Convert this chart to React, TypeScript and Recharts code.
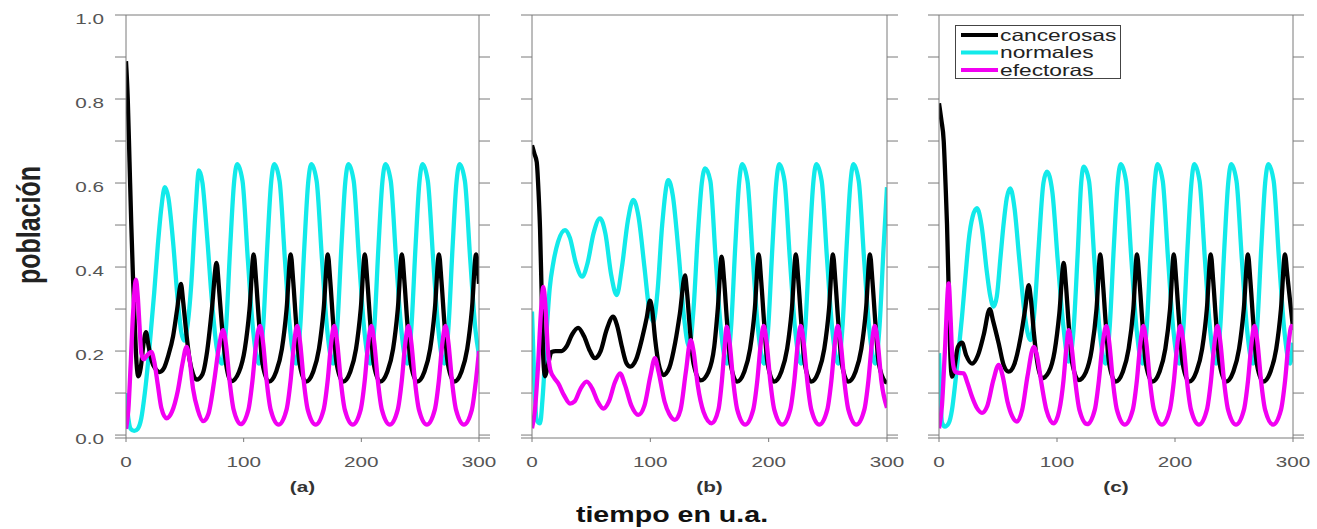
import React from "react";
import { LineChart, Line, XAxis, YAxis, Legend } from "recharts";

// series: [tiempo, población]
const A_CANCER: [number, number][] = [
  [0, 0.89], [1.5, 0.8], [3, 0.65], [4.5, 0.5], [6, 0.37], [7.5, 0.26], [9, 0.17], [10.5, 0.14], [12.5, 0.16],
  [15, 0.22], [17, 0.245], [19, 0.215], [22, 0.175], [25, 0.158], [28.5, 0.15], [32, 0.158], [36, 0.19],
  [40, 0.235], [43.5, 0.3], [46.7, 0.36], [48.5, 0.32], [51, 0.25], [54, 0.18], [57, 0.145], [60, 0.132],
  [65, 0.145], [69, 0.2], [73, 0.3], [77, 0.41], [79, 0.35], [81.5, 0.26], [84.5, 0.18], [89.5, 0.128],
  [96, 0.15], [101, 0.205], [105, 0.3],
  [108.5, 0.43], [110.5, 0.37], [113, 0.27], [116, 0.17], [121.5, 0.127], [127.5, 0.15], [132.5, 0.205], [136.5, 0.3],
  [140, 0.43], [142, 0.37], [144.5, 0.27], [147.5, 0.17], [153, 0.127], [159, 0.15], [164, 0.205], [168, 0.3],
  [171.5, 0.43], [173.5, 0.37], [176, 0.27], [179, 0.17], [184.5, 0.127], [190.5, 0.15], [195.5, 0.205], [199.5, 0.3],
  [203, 0.43], [205, 0.37], [207.5, 0.27], [210.5, 0.17], [216, 0.127], [222, 0.15], [227, 0.205], [231, 0.3],
  [234.5, 0.43], [236.5, 0.37], [239, 0.27], [242, 0.17], [247.5, 0.127], [253.5, 0.15], [258.5, 0.205], [262.5, 0.3],
  [266, 0.43], [268, 0.37], [270.5, 0.27], [273.5, 0.17], [279, 0.127], [285, 0.15], [290, 0.205], [294, 0.3],
  [297.5, 0.43], [300, 0.36],
];
const A_NORMAL: [number, number][] = [
  [0, 0.1], [2, 0.04], [4, 0.015], [7, 0.01], [10, 0.015], [13, 0.04], [16, 0.1], [20, 0.21], [24, 0.34],
  [27, 0.45], [30, 0.54], [33, 0.59], [36, 0.565], [40, 0.46], [44, 0.32], [47, 0.245], [49.3, 0.225],
  [52, 0.255], [55.5, 0.36], [59, 0.53], [62, 0.63], [65, 0.6], [69, 0.47], [73, 0.32], [77, 0.21],
  [81.5, 0.17], [85, 0.255], [88.5, 0.445], [91.8, 0.6],
  [94.5, 0.645], [99, 0.605], [103.5, 0.42], [108, 0.25], [112.9, 0.17], [116.5, 0.255], [120, 0.445], [123.3, 0.6],
  [126, 0.645], [130.5, 0.605], [135, 0.42], [139.5, 0.25], [144.4, 0.17], [148, 0.255], [151.5, 0.445], [154.8, 0.6],
  [157.5, 0.645], [162, 0.605], [166.5, 0.42], [171, 0.25], [175.9, 0.17], [179.5, 0.255], [183, 0.445], [186.3, 0.6],
  [189, 0.645], [193.5, 0.605], [198, 0.42], [202.5, 0.25], [207.4, 0.17], [211, 0.255], [214.5, 0.445], [217.8, 0.6],
  [220.5, 0.645], [225, 0.605], [229.5, 0.42], [234, 0.25], [238.9, 0.17], [242.5, 0.255], [246, 0.445], [249.3, 0.6],
  [252, 0.645], [256.5, 0.605], [261, 0.42], [265.5, 0.25], [270.4, 0.17], [274, 0.255], [277.5, 0.445], [280.8, 0.6],
  [283.5, 0.645], [288, 0.605], [292.5, 0.42], [297, 0.25], [300, 0.19],
];
const A_EFECT: [number, number][] = [
  [0, 0.015], [2, 0.06], [4, 0.17], [6, 0.29], [8.5, 0.37], [10, 0.33], [11.5, 0.26], [13, 0.195], [15, 0.18],
  [18, 0.19], [21.5, 0.198], [24, 0.175], [27, 0.12], [30, 0.065], [34.5, 0.04], [39, 0.055], [44, 0.105],
  [48, 0.17], [51.5, 0.21], [54, 0.18], [57, 0.11], [61, 0.06], [65.7, 0.033], [70, 0.05], [75, 0.13],
  [79, 0.21], [82.6, 0.25], [85, 0.215], [88, 0.13], [91.5, 0.06], [97.5, 0.026], [104, 0.06], [107.5, 0.13], [110.5, 0.215],
  [114, 0.26], [116.5, 0.22], [119.5, 0.13], [123, 0.06], [129.7, 0.025], [136.4, 0.06], [139.9, 0.13], [142.9, 0.22],
  [145.5, 0.26], [148, 0.22], [151, 0.13], [154.5, 0.06], [161.2, 0.025], [167.9, 0.06], [171.4, 0.13], [174.4, 0.22],
  [177, 0.26], [179.5, 0.22], [182.5, 0.13], [186, 0.06], [192.7, 0.025], [199.4, 0.06], [202.9, 0.13], [205.9, 0.22],
  [208.5, 0.26], [211, 0.22], [214, 0.13], [217.5, 0.06], [224.2, 0.025], [230.9, 0.06], [234.4, 0.13], [237.4, 0.22],
  [240, 0.26], [242.5, 0.22], [245.5, 0.13], [249, 0.06], [255.7, 0.025], [262.4, 0.06], [265.9, 0.13], [268.9, 0.22],
  [271.5, 0.26], [274, 0.22], [277, 0.13], [280.5, 0.06], [287.2, 0.025], [293.9, 0.06], [297.4, 0.13], [300, 0.2],
];

const B_CANCER: [number, number][] = [
  [0, 0.69], [2, 0.67], [4, 0.65], [5.5, 0.58], [6.8, 0.49], [8.2, 0.33], [9.6, 0.18], [11, 0.14], [13, 0.16],
  [16.5, 0.198], [20, 0.2], [25, 0.2], [29, 0.21], [34, 0.24], [39, 0.255], [44, 0.235], [49, 0.2], [53, 0.183],
  [58, 0.2], [63, 0.25], [68.5, 0.282], [72, 0.26], [76, 0.21], [80, 0.17], [83, 0.163], [88, 0.18], [93, 0.23],
  [97, 0.28], [99.7, 0.32], [101.5, 0.3], [104, 0.23], [107, 0.17], [111, 0.143], [116, 0.16], [121, 0.22],
  [125, 0.29], [129.3, 0.38], [131, 0.34], [133.5, 0.25], [136.5, 0.17], [142.5, 0.13], [149, 0.15], [154, 0.21], [157, 0.3],
  [160.3, 0.425], [162.3, 0.37], [164.8, 0.27], [167.8, 0.17], [173.3, 0.127], [179.3, 0.15], [184.3, 0.205], [188.3, 0.3],
  [191.6, 0.43], [193.6, 0.37], [196.1, 0.27], [199.1, 0.17], [204.6, 0.127], [210.6, 0.15], [215.6, 0.205], [219.6, 0.3],
  [223, 0.43], [225, 0.37], [227.5, 0.27], [230.5, 0.17], [236, 0.127], [242, 0.15], [247, 0.205], [251, 0.3],
  [254.3, 0.43], [256.3, 0.37], [258.8, 0.27], [261.8, 0.17], [267.3, 0.127], [273.3, 0.15], [278.3, 0.205], [282.3, 0.3],
  [285.6, 0.43], [287.6, 0.37], [290.1, 0.27], [293.1, 0.17], [298.6, 0.127], [300, 0.125],
];
const B_NORMAL: [number, number][] = [
  [0, 0.294], [2, 0.12], [4, 0.036], [6.8, 0.028], [9, 0.09], [12.4, 0.25], [15, 0.35], [18, 0.41], [22, 0.46],
  [27.9, 0.488], [32, 0.47], [37, 0.41], [42.5, 0.377], [47, 0.41], [52, 0.48], [57.5, 0.516], [62, 0.48],
  [67, 0.38], [71.6, 0.333], [76, 0.4], [81, 0.51], [85.6, 0.56], [90, 0.52], [95, 0.4], [99, 0.3], [102.5, 0.27],
  [106, 0.34], [110, 0.5], [115.2, 0.607], [119, 0.57], [124, 0.43], [128.5, 0.28], [132.7, 0.21], [136.5, 0.3],
  [140, 0.47], [143.5, 0.6], [146.4, 0.635],
  [150.7, 0.605], [155.2, 0.42], [159.7, 0.25], [164.6, 0.17], [168.2, 0.255], [171.7, 0.445], [175, 0.6],
  [177.6, 0.645], [182.1, 0.605], [186.6, 0.42], [191.1, 0.25], [196, 0.17], [199.6, 0.255], [203.1, 0.445], [206.4, 0.6],
  [208.9, 0.645], [213.4, 0.605], [217.9, 0.42], [222.4, 0.25], [227.3, 0.17], [230.9, 0.255], [234.4, 0.445], [237.7, 0.6],
  [240.3, 0.645], [244.8, 0.605], [249.3, 0.42], [253.8, 0.25], [258.7, 0.17], [262.3, 0.255], [265.8, 0.445], [269.1, 0.6],
  [271.6, 0.645], [276.1, 0.605], [280.6, 0.42], [285.1, 0.25], [290, 0.17], [293.6, 0.255], [297.1, 0.445], [300, 0.59],
];
const B_EFECT: [number, number][] = [
  [0, 0.016], [2.5, 0.06], [5, 0.16], [7.5, 0.29], [9.6, 0.353], [11.5, 0.3], [13.5, 0.2], [15.5, 0.155],
  [19, 0.135], [22.2, 0.123], [27, 0.095], [32.1, 0.075], [36, 0.08], [41, 0.11], [46.2, 0.127], [51, 0.11],
  [55.5, 0.08], [60.3, 0.063], [65, 0.08], [70, 0.125], [74.4, 0.147], [78.5, 0.12], [84, 0.07], [89.9, 0.048],
  [95, 0.07], [100, 0.14], [103.9, 0.183], [107, 0.15], [112, 0.08], [116, 0.05], [120.8, 0.036], [125.5, 0.06],
  [130, 0.15], [134.1, 0.226], [136.5, 0.2], [140, 0.12], [145, 0.055], [151.9, 0.028], [157.5, 0.06], [160.5, 0.13], [162.8, 0.21],
  [164.5, 0.258], [167, 0.22], [170, 0.13], [173.5, 0.06], [180.2, 0.025], [186.9, 0.06], [190.4, 0.13], [193.4, 0.22],
  [195.8, 0.26], [198.3, 0.22], [201.3, 0.13], [204.8, 0.06], [211.5, 0.025], [218.2, 0.06], [221.7, 0.13], [224.7, 0.22],
  [227.1, 0.26], [229.6, 0.22], [232.6, 0.13], [236.1, 0.06], [242.8, 0.025], [249.5, 0.06], [253, 0.13], [256, 0.22],
  [258.4, 0.26], [260.9, 0.22], [263.9, 0.13], [267.4, 0.06], [274.1, 0.025], [280.8, 0.06], [284.3, 0.13], [287.3, 0.22],
  [289.7, 0.26], [292.2, 0.22], [295.2, 0.13], [300, 0.065],
];

const C_CANCER: [number, number][] = [
  [0, 0.79], [2, 0.75], [4, 0.7], [5.5, 0.6], [6.8, 0.5], [8.2, 0.345], [9.6, 0.19], [11, 0.139], [13, 0.16],
  [16, 0.21], [19.5, 0.22], [23, 0.19], [28, 0.17], [33, 0.19], [38, 0.24], [43, 0.3], [46, 0.27], [50.6, 0.218],
  [55, 0.165], [59, 0.151], [64, 0.17], [69, 0.23], [73, 0.3], [76, 0.357], [78, 0.32], [80.5, 0.24], [83.5, 0.17],
  [87.3, 0.135], [93, 0.15], [98, 0.2], [102, 0.29], [105.7, 0.41], [107.5, 0.36], [110, 0.26], [113, 0.17],
  [118.4, 0.131], [124.5, 0.15], [129.5, 0.205], [133.5, 0.3],
  [136.7, 0.43], [138.7, 0.37], [141.2, 0.27], [144.2, 0.17], [149.7, 0.127], [155.7, 0.15], [160.7, 0.205], [164.7, 0.3],
  [167.8, 0.43], [169.8, 0.37], [172.3, 0.27], [175.3, 0.17], [180.8, 0.127], [186.8, 0.15], [191.8, 0.205], [195.8, 0.3],
  [199, 0.43], [201, 0.37], [203.5, 0.27], [206.5, 0.17], [212, 0.127], [218, 0.15], [223, 0.205], [227, 0.3],
  [230.3, 0.43], [232.3, 0.37], [234.8, 0.27], [237.8, 0.17], [243.3, 0.127], [249.3, 0.15], [254.3, 0.205], [258.3, 0.3],
  [261.8, 0.43], [263.8, 0.37], [266.3, 0.27], [269.3, 0.17], [274.8, 0.127], [280.8, 0.15], [285.8, 0.205], [289.8, 0.3],
  [293.2, 0.43], [295.2, 0.38], [300, 0.255],
];
const C_NORMAL: [number, number][] = [
  [0, 0.195], [1.2, 0.1], [2.5, 0.03], [5, 0.02], [8.2, 0.028], [11, 0.06], [14, 0.13], [17, 0.21], [19.5, 0.282],
  [22.5, 0.38], [25.2, 0.464], [28.5, 0.52], [32.2, 0.54], [36, 0.5], [40.7, 0.385], [43.5, 0.33], [46.3, 0.306],
  [49, 0.33], [52, 0.42], [54.8, 0.504], [57.5, 0.565], [60.4, 0.587], [64, 0.54], [68, 0.42], [72.5, 0.29],
  [77.4, 0.226], [81, 0.3], [84.5, 0.45], [88.5, 0.6], [91.5, 0.627], [96, 0.58], [100.5, 0.42], [105, 0.27],
  [110, 0.175], [114, 0.25], [117.5, 0.43], [120.5, 0.6], [122.6, 0.639],
  [127.1, 0.605], [131.6, 0.42], [136.1, 0.25], [141, 0.17], [144.6, 0.255], [148.1, 0.445], [151.4, 0.6],
  [154, 0.645], [158.5, 0.605], [163, 0.42], [167.5, 0.25], [172.4, 0.17], [176, 0.255], [179.5, 0.445], [182.8, 0.6],
  [185.1, 0.645], [189.6, 0.605], [194.1, 0.42], [198.6, 0.25], [203.5, 0.17], [207.1, 0.255], [210.6, 0.445], [213.9, 0.6],
  [216.3, 0.645], [220.8, 0.605], [225.3, 0.42], [229.8, 0.25], [234.7, 0.17], [238.3, 0.255], [241.8, 0.445], [245.1, 0.6],
  [247.6, 0.645], [252.1, 0.605], [256.6, 0.42], [261.1, 0.25], [266, 0.17], [269.6, 0.255], [273.1, 0.445], [276.4, 0.6],
  [279.1, 0.645], [283.6, 0.605], [288.1, 0.42], [292.6, 0.25], [297.5, 0.17], [300, 0.22],
];
const C_EFECT: [number, number][] = [
  [0, 0.016], [2.5, 0.07], [5, 0.2], [8.2, 0.361], [9.8, 0.28], [11, 0.2], [12.5, 0.16], [14, 0.15], [17, 0.148],
  [20.9, 0.147], [24, 0.125], [28, 0.091], [32, 0.065], [36.4, 0.053], [41, 0.07], [46, 0.13], [50.6, 0.167],
  [54, 0.14], [58, 0.08], [62, 0.045], [66.1, 0.032], [70.5, 0.06], [75, 0.14], [80.3, 0.21], [83, 0.19],
  [87, 0.12], [91, 0.06], [97.2, 0.028], [102, 0.06], [105.5, 0.13], [108, 0.21], [109.9, 0.25], [112.4, 0.21],
  [115.4, 0.13], [119, 0.06], [125.6, 0.026], [132, 0.06], [135.5, 0.13], [138.8, 0.22],
  [141.8, 0.26], [144.3, 0.22], [147.3, 0.13], [150.8, 0.06], [157.5, 0.025], [164.2, 0.06], [167.7, 0.13], [170.7, 0.22],
  [173.2, 0.26], [175.7, 0.22], [178.7, 0.13], [182.2, 0.06], [188.9, 0.025], [195.6, 0.06], [199.1, 0.13], [202.1, 0.22],
  [204.6, 0.26], [207.1, 0.22], [210.1, 0.13], [213.6, 0.06], [220.3, 0.025], [227, 0.06], [230.5, 0.13], [233.5, 0.22],
  [236, 0.26], [238.5, 0.22], [241.5, 0.13], [245, 0.06], [251.7, 0.025], [258.4, 0.06], [261.9, 0.13], [264.9, 0.22],
  [267.4, 0.26], [269.9, 0.22], [272.9, 0.13], [276.4, 0.06], [283.1, 0.025], [289.8, 0.06], [293.3, 0.13], [296.3, 0.22],
  [298.8, 0.26], [300, 0.25],
];

const X_TICKS = [0, 100, 200, 300];
const X_TOP_TICKS = [100, 200];
const Y_TICKS = [0, 0.1, 0.2, 0.3, 0.4, 0.5, 0.6, 0.7, 0.8, 0.9, 1.0];
const Y_LABELS = [0, 0.2, 0.4, 0.6, 0.8, 1.0];
const Y_MIN = -0.007;
const SERIES_NAMES = ["cancerosas", "normales", "efectoras"];
const PANEL_TAGS = ["(a)", "(b)", "(c)"];

const BLACK = "#000000";
const CYAN = "#12EAEA";
const MAGENTA = "#F200F2";
const AXIS = "#7a7a7a";
const FONT = "'Liberation Sans', Arial, sans-serif";
const STRETCH = 1.38;
const TICK_LINE = { stroke: AXIS, strokeWidth: 1 };

const rows = (pts: [number, number][]) => pts.map(([t, v]) => ({ t, v }));

const emptyTick = () => <g />;

const yTickLabel = (props: any) => {
  const { x, y, payload } = props;
  const v = payload.value;
  if (!Y_LABELS.some((l) => Math.abs(l - v) < 1e-6)) return <g />;
  return (
    <text
      transform={`translate(${x - 9},${y + 9}) scale(${STRETCH},1)`}
      textAnchor="end"
      fontSize={15}
      fontFamily={FONT}
      fill="#555"
    >
      {v.toFixed(1)}
    </text>
  );
};

const xTickLabel = (props: any) => {
  const { x, y, payload } = props;
  return (
    <text
      transform={`translate(${x},${y + 23}) scale(${STRETCH},1)`}
      textAnchor="middle"
      fontSize={15}
      fontFamily={FONT}
      fill="#555"
    >
      {payload.value}
    </text>
  );
};

const renderLegend = (props: any) => {
  const { payload } = props;
  const items = SERIES_NAMES.map((n) => payload?.find((p: any) => p.value === n)).filter(Boolean);
  return (
    <svg width={167} height={55} style={{ display: "block" }}>
      <rect x={0.5} y={0.5} width={165} height={53} fill="#fff" stroke="#444" strokeWidth={1} />
      {items.map((entry: any, i: number) => (
        <g key={`leg-${i}`}>
          <line x1={6} x2={43} y1={10 + i * 17.5} y2={10 + i * 17.5} stroke={entry.color} strokeWidth={4} />
          <text
            transform={`translate(45,${15.5 + i * 17.5}) scale(1.38,1)`}
            fontSize={16.5}
            fontFamily={FONT}
            fill="#222"
          >
            {entry.value}
          </text>
        </g>
      ))}
    </svg>
  );
};

type PanelProps = {
  cancer: [number, number][];
  normal: [number, number][];
  efect: [number, number][];
  left: number;
  width: number;
  yWidth: number;
  showYLabels?: boolean;
  showLegend?: boolean;
};

const Panel = ({ cancer, normal, efect, left, width, yWidth, showYLabels, showLegend }: PanelProps) => (
  <div style={{ position: "absolute", left, top: 0 }}>
    <LineChart width={width} height={529} margin={{ top: 0, right: 0, bottom: 0, left: 0 }}>
      <XAxis
        xAxisId="b"
        dataKey="t"
        type="number"
        domain={[0, 300]}
        ticks={X_TICKS}
        interval={0}
        allowDataOverflow
        height={91}
        tickSize={4}
        axisLine={TICK_LINE}
        tickLine={TICK_LINE}
        tick={xTickLabel}
      />
      <XAxis
        xAxisId="top"
        orientation="top"
        type="number"
        domain={[0, 300]}
        ticks={X_TOP_TICKS}
        interval={0}
        allowDataOverflow
        height={15}
        tickSize={7}
        axisLine={TICK_LINE}
        tickLine={TICK_LINE}
        tick={emptyTick}
      />
      <YAxis
        yAxisId="l"
        type="number"
        domain={[Y_MIN, 1]}
        ticks={[Y_MIN, ...Y_TICKS]}
        interval={0}
        allowDataOverflow
        width={yWidth}
        tickSize={11}
        axisLine={TICK_LINE}
        tickLine={TICK_LINE}
        tick={showYLabels ? yTickLabel : emptyTick}
      />
      <YAxis
        yAxisId="r"
        orientation="right"
        type="number"
        domain={[Y_MIN, 1]}
        ticks={[Y_MIN, ...Y_TICKS]}
        interval={0}
        allowDataOverflow
        width={21}
        tickSize={11}
        axisLine={TICK_LINE}
        tickLine={TICK_LINE}
        tick={emptyTick}
      />
      <Line xAxisId="b" yAxisId="l" data={rows(normal)} dataKey="v" name="normales" type="monotone" stroke={CYAN} strokeWidth={4.3} dot={false} isAnimationActive={false} />
      <Line xAxisId="b" yAxisId="l" data={rows(cancer)} dataKey="v" name="cancerosas" type="monotone" stroke={BLACK} strokeWidth={4.3} dot={false} isAnimationActive={false} />
      <Line xAxisId="b" yAxisId="l" data={rows(efect)} dataKey="v" name="efectoras" type="monotone" stroke={MAGENTA} strokeWidth={4.3} dot={false} isAnimationActive={false} />
      {showLegend && (
        <Legend
          layout="horizontal"
          verticalAlign="middle"
          align="center"
          content={renderLegend}
          wrapperStyle={{ left: 47, top: 25, width: 167, height: 55 }}
        />
      )}
    </LineChart>
  </div>
);

export default function App() {
  return (
    <div style={{ position: "absolute", left: 0, top: 0, width: 1317, height: 529, background: "#fff" }}>
      <svg width={1317} height={529} style={{ position: "absolute", left: 0, top: 0 }}>
        <text
          transform={`translate(40,225) scale(1.3,1) rotate(-90)`}
          textAnchor="middle"
          fontSize={25}
          fontWeight="bold"
          fontFamily={FONT}
          fill="#222"
        >
          población
        </text>
        {[302.5, 709.5, 1116].map((cx, i) => (
          <text
            key={PANEL_TAGS[i]}
            transform={`translate(${cx},492) scale(${STRETCH},1)`}
            textAnchor="middle"
            fontSize={15}
            fontWeight="bold"
            fontFamily={FONT}
            fill="#333"
          >
            {PANEL_TAGS[i]}
          </text>
        ))}
        <text
          transform={`translate(672,522) scale(1.3,1)`}
          textAnchor="middle"
          fontSize={22}
          fontWeight="bold"
          fontFamily={FONT}
          fill="#111"
        >
          tiempo en u.a.
        </text>
      </svg>
      <Panel cancer={A_CANCER} normal={A_NORMAL} efect={A_EFECT} left={0} width={500} yWidth={126} showYLabels />
      <Panel cancer={B_CANCER} normal={B_NORMAL} efect={B_EFECT} left={500} width={408} yWidth={32} />
      <Panel cancer={C_CANCER} normal={C_NORMAL} efect={C_EFECT} left={908} width={406} yWidth={31} showLegend />
    </div>
  );
}
